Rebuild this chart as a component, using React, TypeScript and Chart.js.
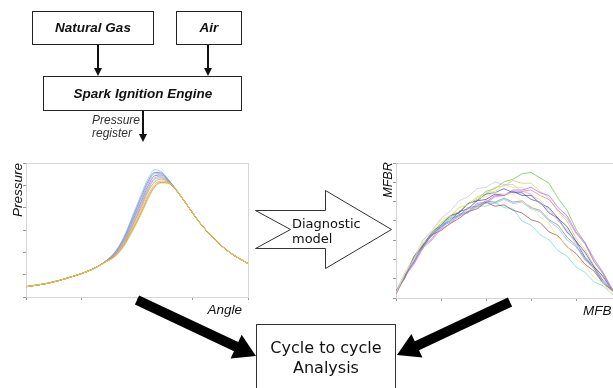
import React, { useEffect, useRef } from "react";
import { Chart, registerables } from "chart.js";

Chart.register(...registerables);

// ---------- Pressure vs crank angle (left plot) ----------
const PRESSURE_ANGLE = [0, 10, 20, 30, 36, 40, 44, 48, 52, 55, 58, 61, 64, 68, 72, 78, 85, 92, 100];
const PRESSURE_X_TICKS = [0, 25, 50, 75, 100];
const PRESSURE_Y_TICKS = [0, 16.67, 33.33, 50, 66.67, 83.33, 100];

const P1 = [7.7, 10.3, 14.8, 20.9, 27.0, 33.5, 44.5, 60.5, 77.0, 88.5, 95.0, 93.5, 88.0, 79.5, 70.0, 56.0, 43.0, 33.0, 25.0];
const P2 = [7.7, 10.3, 14.8, 20.9, 26.9, 33.0, 43.5, 59.0, 75.0, 86.5, 93.0, 92.5, 87.5, 79.3, 70.0, 56.0, 43.0, 33.0, 25.0];
const P3 = [7.7, 10.3, 14.8, 20.8, 26.8, 32.7, 43.0, 58.0, 73.5, 85.0, 92.0, 92.0, 87.5, 79.3, 70.0, 56.0, 43.0, 33.0, 25.0];
const P4 = [7.7, 10.3, 14.8, 20.8, 26.7, 32.2, 42.0, 56.5, 71.5, 83.0, 90.5, 91.0, 87.0, 79.2, 70.0, 56.0, 43.0, 33.0, 25.0];
const P5 = [7.7, 10.3, 14.8, 20.8, 26.6, 32.0, 41.5, 55.5, 70.0, 81.5, 89.0, 90.0, 86.5, 79.2, 70.0, 56.0, 43.0, 33.0, 25.0];
const P6 = [7.7, 10.3, 14.8, 20.8, 26.5, 31.5, 40.5, 54.0, 68.5, 80.0, 88.0, 89.0, 86.2, 79.1, 70.0, 56.0, 43.0, 33.0, 25.0];
const P7 = [7.7, 10.3, 14.8, 20.8, 26.4, 31.2, 39.8, 53.0, 67.0, 78.5, 86.0, 88.0, 86.0, 79.1, 70.0, 56.0, 43.0, 33.0, 25.0];
const P8 = [7.7, 10.3, 14.8, 20.8, 26.3, 30.8, 39.0, 51.5, 65.0, 76.0, 84.0, 86.5, 85.5, 79.0, 70.0, 56.0, 43.0, 33.0, 25.0];
const P9 = [7.7, 10.3, 14.8, 20.7, 26.2, 30.3, 38.0, 50.0, 63.0, 74.0, 82.5, 85.5, 85.0, 79.0, 70.0, 56.0, 43.0, 33.0, 25.0];
const P10 = [7.7, 10.3, 14.8, 20.7, 26.2, 30.0, 37.5, 49.0, 62.0, 73.0, 82.0, 85.0, 85.0, 79.2, 70.0, 56.0, 43.0, 33.0, 25.0];
const PRESSURE_SERIES = [P1, P2, P3, P4, P5, P6, P7, P8, P9, P10];
const PRESSURE_COLORS = [
  "rgba(150,190,240,0.8)", "rgba(80,115,210,0.7)", "rgba(150,175,215,0.8)", "rgba(140,90,190,0.7)",
  "rgba(190,165,230,0.8)", "rgba(150,150,150,0.7)", "rgba(140,190,110,0.8)", "rgba(240,160,60,0.8)",
  "rgba(225,80,80,0.75)", "rgba(230,225,60,0.9)",
];

// ---------- MFBR vs MFB (right plot) ----------
const MFB = [0, 4, 8, 12, 16, 20, 24, 28, 32, 36, 40, 44, 48, 52, 56, 60, 64, 68, 72, 76, 80, 84, 88, 92, 96, 100];
const MFB_X_TICKS = [0, 20, 40, 60, 80, 100];
const MFBR_Y_TICKS = [0, 14.29, 28.57, 42.86, 57.14, 71.43, 85.71, 100];

const M1 = [3, 16, 29, 37, 48, 53, 60, 63, 70, 73, 79, 81, 86, 88, 92, 93, 89, 85, 74, 65, 51, 41, 27, 18, 6, 1];
const M2 = [4, 18, 28, 41, 47, 56, 60, 67, 69, 75, 77, 82, 83, 87, 85, 85, 79, 74, 64, 57, 44, 36, 24, 16, 5, 1];
const M3 = [4, 15, 29, 38, 49, 55, 61, 64, 70, 72, 78, 79, 84, 82, 82, 76, 73, 64, 58, 48, 41, 30, 22, 11, 5, 2];
const M4 = [3, 17, 26, 38, 44, 53, 56, 62, 64, 70, 71, 76, 76, 80, 80, 82, 78, 76, 67, 61, 49, 41, 29, 19, 7, 2];
const M5 = [4, 16, 30, 39, 49, 54, 61, 63, 70, 72, 77, 78, 81, 78, 78, 73, 71, 63, 59, 49, 42, 30, 23, 13, 6, 1];
const M6 = [5, 17, 27, 39, 46, 54, 57, 64, 66, 72, 73, 77, 76, 79, 76, 76, 70, 67, 59, 53, 42, 34, 23, 16, 6, 2];
const M7 = [4, 19, 30, 43, 50, 59, 64, 72, 75, 81, 82, 86, 84, 84, 79, 77, 70, 66, 57, 51, 40, 33, 22, 15, 5, 1];
const M8 = [4, 15, 29, 37, 47, 51, 58, 60, 66, 67, 71, 70, 73, 70, 71, 66, 64, 57, 52, 43, 38, 28, 22, 12, 6, 1];
const M9 = [4, 18, 28, 40, 46, 54, 57, 62, 63, 68, 68, 71, 67, 66, 57, 54, 47, 43, 35, 31, 23, 19, 12, 9, 3, 1];
const M10 = [5, 15, 31, 39, 47, 50, 55, 59, 64, 66, 71, 68, 69, 65, 63, 58, 56, 49, 46, 38, 33, 25, 20, 11, 6, 1];
const M11 = [3, 16, 25, 37, 43, 51, 55, 61, 63, 69, 70, 75, 76, 79, 79, 80, 76, 73, 65, 59, 48, 40, 27, 18, 6, 1];
const M12 = [4, 16, 30, 38, 48, 52, 59, 61, 67, 68, 72, 71, 74, 71, 72, 67, 65, 58, 54, 45, 39, 29, 22, 11, 6, 1];
const M13 = [4, 18, 29, 42, 49, 58, 61, 67, 69, 74, 75, 78, 77, 77, 71, 68, 60, 55, 45, 39, 29, 24, 15, 11, 3, 1];
const MFBR_SERIES = [M1, M2, M3, M4, M5, M6, M7, M8, M9, M10, M11, M12, M13];
const MFBR_COLORS = [
  "rgba(120,190,100,0.75)", "rgba(200,215,95,0.75)", "rgba(232,224,80,0.75)", "rgba(176,112,224,0.75)",
  "rgba(58,80,208,0.7)", "rgba(90,74,160,0.75)", "rgba(200,192,240,0.75)", "rgba(144,192,240,0.75)",
  "rgba(112,216,224,0.75)", "rgba(160,80,80,0.75)", "rgba(208,128,208,0.75)", "rgba(128,144,160,0.75)",
  "rgba(240,232,144,0.8)",
];

const framePlugin = {
  id: "frame",
  beforeDatasetsDraw(chart: any) {
    const { ctx, chartArea } = chart;
    ctx.save();
    ctx.strokeStyle = "#d6d6d6";
    ctx.lineWidth = 1;
    ctx.strokeRect(
      Math.round(chartArea.left) + 0.5,
      Math.round(chartArea.top) + 0.5,
      Math.round(chartArea.right - chartArea.left),
      Math.round(chartArea.bottom - chartArea.top)
    );
    ctx.restore();
  },
};

function LineChart(props: {
  left: number; top: number; width: number; height: number;
  xs: number[]; series: number[][]; colors: string[];
  xTicks: number[]; yTicks: number[]; smooth: boolean;
}) {
  const ref = useRef<HTMLCanvasElement>(null);
  useEffect(() => {
    const datasets = props.series
      .map((ys, i) => ({
        data: props.xs.map((x, j) => ({ x, y: ys[j] })),
        borderColor: props.colors[i],
        borderWidth: 1,
        pointRadius: 0,
        fill: false,
        cubicInterpolationMode: props.smooth ? ("monotone" as const) : ("default" as const),
        tension: 0,
      }))
      .reverse();
    const scale = (ticks: number[]) => ({
      type: "linear" as const,
      min: 0,
      max: 100,
      afterBuildTicks: (s: any) => {
        s.ticks = ticks.map((v) => ({ value: v }));
      },
      ticks: { display: false },
      grid: { drawOnChartArea: false, drawTicks: true, tickLength: 3, color: "#9a9a9a" },
      border: { display: true, color: "#d6d6d6" },
    });
    const chart = new Chart(ref.current!, {
      type: "line",
      data: { datasets },
      options: {
        animation: false,
        responsive: false,
        maintainAspectRatio: false,
        devicePixelRatio: 1,
        layout: { padding: { top: 1, right: 1, left: 0, bottom: 0 } },
        plugins: { legend: { display: false }, tooltip: { enabled: false } },
        scales: { x: scale(props.xTicks), y: scale(props.yTicks) },
      },
      plugins: [framePlugin],
    });
    return () => chart.destroy();
  }, []);
  return (
    <canvas
      ref={ref}
      width={props.width}
      height={props.height}
      style={{ position: "absolute", left: props.left, top: props.top, width: props.width, height: props.height }}
    />
  );
}

function bigArrow(x1: number, y1: number, x2: number, y2: number, shaft: number, headL: number, headW: number) {
  const dx = x2 - x1, dy = y2 - y1;
  const len = Math.hypot(dx, dy);
  const ux = dx / len, uy = dy / len;
  const px = -uy, py = ux;
  const bx = x2 - ux * headL, by = y2 - uy * headL;
  const s = shaft / 2, h = headW / 2;
  const pts = [
    [x1 + px * s, y1 + py * s],
    [bx + px * s, by + py * s],
    [bx + px * h, by + py * h],
    [x2, y2],
    [bx - px * h, by - py * h],
    [bx - px * s, by - py * s],
    [x1 - px * s, y1 - py * s],
  ];
  return pts.map((p) => p.join(",")).join(" ");
}

function smallArrow(x: number, y1: number, y2: number) {
  return (
    <g>
      <line x1={x} y1={y1} x2={x} y2={y2 - 7} stroke="#111" strokeWidth={2} />
      <polygon points={`${x - 4},${y2 - 8} ${x + 4},${y2 - 8} ${x},${y2}`} fill="#111" />
    </g>
  );
}

export default function App() {
  const boxFont = { fontFamily: "'Liberation Sans', Arial, sans-serif", fontWeight: 700, fontStyle: "italic", fontSize: 13.5 } as const;
  const italic = { fontFamily: "'Liberation Sans', Arial, sans-serif", fontStyle: "italic" } as const;
  const dejavu = { fontFamily: "'DejaVu Sans', Verdana, sans-serif" } as const;
  return (
    <div style={{ position: "absolute", left: 0, top: 0, width: 613, height: 388, overflow: "hidden", background: "#fff" }}>
      <LineChart
        left={23} top={162} width={226} height={138}
        xs={PRESSURE_ANGLE} series={PRESSURE_SERIES} colors={PRESSURE_COLORS}
        xTicks={PRESSURE_X_TICKS} yTicks={PRESSURE_Y_TICKS} smooth={true}
      />
      <LineChart
        left={393} top={162} width={229} height={139}
        xs={MFB} series={MFBR_SERIES} colors={MFBR_COLORS}
        xTicks={MFB_X_TICKS} yTicks={MFBR_Y_TICKS} smooth={false}
      />
      <svg width={613} height={388} style={{ position: "absolute", left: 0, top: 0, pointerEvents: "none" }}>
        {/* top boxes */}
        <rect x={32.5} y={11.5} width={121} height={33} fill="#fff" stroke="#222" strokeWidth={1} />
        <text x={93} y={28.5} textAnchor="middle" dominantBaseline="middle" style={boxFont} fill="#111">Natural Gas</text>
        <rect x={176.5} y={11.5} width={65} height={33} fill="#fff" stroke="#222" strokeWidth={1} />
        <text x={209} y={28.5} textAnchor="middle" dominantBaseline="middle" style={boxFont} fill="#111">Air</text>
        {smallArrow(98, 45, 76)}
        {smallArrow(208, 45, 76)}
        <rect x={43.5} y={76.5} width={198} height={34} fill="#fff" stroke="#222" strokeWidth={1} />
        <text x={143} y={94} textAnchor="middle" dominantBaseline="middle" style={boxFont} fill="#111">Spark Ignition Engine</text>
        {smallArrow(143, 111, 142)}
        <text x={92} y={124} style={{ ...italic, fontSize: 12 }} fill="#333">Pressure</text>
        <text x={92} y={137} style={{ ...italic, fontSize: 12 }} fill="#333">register</text>

        {/* axis labels */}
        <text x={22} y={190} transform="rotate(-90 22 190)" textAnchor="middle" style={{ ...italic, fontSize: 13.5 }} fill="#111">Pressure</text>
        <text x={242} y={314} textAnchor="end" style={{ ...italic, fontSize: 13.5 }} fill="#111">Angle</text>
        <text x={392} y={180} transform="rotate(-90 392 180)" textAnchor="middle" style={{ ...italic, fontSize: 12.5 }} fill="#111">MFBR</text>
        <text x={583} y={315} style={{ ...italic, fontSize: 13.5 }} fill="#111">MFB</text>

        {/* diagnostic arrow */}
        <polygon
          points="255.5,210.5 325.5,210.5 325.5,190.5 391.5,229.5 325.5,268.5 325.5,248.5 255.5,248.5 290.5,229.5"
          fill="#fff" stroke="#333" strokeWidth={1}
        />
        <text x={292} y={228} style={{ ...dejavu, fontSize: 13 }} fill="#111">Diagnostic</text>
        <text x={292} y={243} style={{ ...dejavu, fontSize: 13 }} fill="#111">model</text>

        {/* big arrows */}
        <polygon points={bigArrow(137, 300, 256, 356, 10, 22, 26)} fill="#000" />
        <polygon points={bigArrow(510, 302, 397, 355, 10, 22, 26)} fill="#000" />

        {/* result box */}
        <rect x={256.5} y={324.5} width={139} height={80} fill="#fff" stroke="#333" strokeWidth={1} />
        <text x={326} y={353} textAnchor="middle" style={{ ...dejavu, fontSize: 16 }} fill="#111">Cycle to cycle</text>
        <text x={326} y={373} textAnchor="middle" style={{ ...dejavu, fontSize: 16 }} fill="#111">Analysis</text>
      </svg>
    </div>
  );
}
